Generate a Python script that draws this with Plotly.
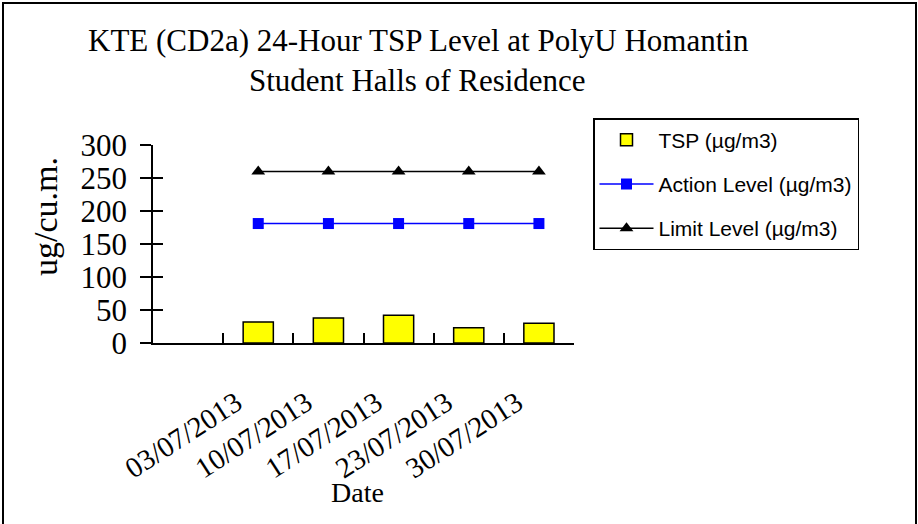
import plotly.graph_objects as go

dates = ["03/07/2013", "10/07/2013", "17/07/2013", "23/07/2013", "30/07/2013"]
tsp = [32, 38, 42, 23, 30]
action_level = [181, 181, 181, 181, 181]
limit_level = [260, 260, 260, 260, 260]
y_ticks = [0, 50, 100, 150, 200, 250, 300]

categories = [" "] + dates

W, H = 918, 524
L, R, T, B = 153, 344, 145, 181
PW, PH = W - L - R, H - T - B

def px(x):
    return (x - L) / PW

def py(y):
    return (H - B - y) / PH

serif = "Liberation Serif"
sans = "Liberation Sans"

fig = go.Figure()
fig.add_trace(go.Bar(
    x=dates, y=tsp, name="TSP (µg/m3)", width=0.43,
    marker=dict(color="#FFFF00", line=dict(color="black", width=1.5)),
    legendgroup="a",
))
fig.add_trace(go.Scatter(
    x=dates, y=action_level, name="Action Level (µg/m3)", mode="lines+markers",
    line=dict(color="#0000FF", width=1.5),
    marker=dict(symbol="square", size=11, color="#0000FF"),
    legendgroup="b",
))
fig.add_trace(go.Scatter(
    x=dates, y=limit_level, name="Limit Level (µg/m3)", mode="lines+markers",
    line=dict(color="black", width=1.5),
    marker=dict(symbol="triangle-up", size=12, color="black"),
    legendgroup="c",
))
# overlay axis for the inner half of the crossing y ticks
fig.add_trace(go.Scatter(x=[dates[0]], y=[y_ticks[0]], yaxis="y2", showlegend=False,
                         hoverinfo="skip", mode="markers", marker=dict(opacity=0)))

fig.update_layout(
    width=W, height=H,
    margin=dict(l=L, r=R, t=T, b=B, autoexpand=False),
    paper_bgcolor="white", plot_bgcolor="white",
    showlegend=True,
    xaxis=dict(
        type="category", categoryorder="array", categoryarray=categories,
        range=[-0.5, 5.5], tickson="boundaries",
        ticks="inside", ticklen=10, tickwidth=1.5, tickcolor="black",
        showline=True, linecolor="black", linewidth=1.5,
        showgrid=False, zeroline=False,
        tickangle=-33, ticklabelshift=-22, ticklabelstandoff=30,
        tickfont=dict(family=serif, size=29, color="black"),
    ),
    yaxis=dict(
        range=[0, 300], tickvals=y_ticks,
        ticks="outside", ticklen=11, tickwidth=1.5, tickcolor="black",
        showline=True, linecolor="black", linewidth=1.5,
        showgrid=False, zeroline=False, ticklabelstandoff=7,
        tickfont=dict(family=serif, size=31, color="black"),
    ),
    yaxis2=dict(
        range=[0, 300], tickvals=y_ticks, overlaying="y", side="left", anchor="x",
        ticks="inside", ticklen=10, tickwidth=1.5, tickcolor="black",
        showticklabels=False, showgrid=False, zeroline=False, showline=False,
    ),
    legend=dict(
        x=px(593), y=py(118), xanchor="left", yanchor="top",
        bordercolor="black", borderwidth=1.5, bgcolor="white",
        font=dict(family=sans, size=21, color="black"),
        tracegroupgap=14, itemwidth=54,
    ),
    annotations=[
        dict(text="KTE (CD2a) 24-Hour TSP Level at PolyU Homantin",
             x=px(418), y=py(40), xref="paper", yref="paper",
             xanchor="center", yanchor="middle", showarrow=False,
             font=dict(family=serif, size=31, color="black")),
        dict(text="Student Halls of Residence",
             x=px(417), y=py(80), xref="paper", yref="paper",
             xanchor="center", yanchor="middle", showarrow=False,
             font=dict(family=serif, size=31, color="black")),
        dict(text="ug/cu.m.", x=px(45), y=py(216), xref="paper", yref="paper",
             xanchor="center", yanchor="middle",
             showarrow=False, textangle=-90,
             font=dict(family=serif, size=34, color="black")),
        dict(text="Date", x=px(357), y=py(492), xref="paper", yref="paper",
             xanchor="center", yanchor="middle",
             showarrow=False, font=dict(family=serif, size=28, color="black")),
    ],
    shapes=[
        dict(type="rect", xref="paper", yref="paper",
             x0=px(3), x1=px(916), y0=py(540), y1=py(3),
             line=dict(color="black", width=2), layer="below"),
    ],
)

fig.write_html("out.html", config={"displayModeBar": False},
               post_script="document.body.style.margin='0';")
